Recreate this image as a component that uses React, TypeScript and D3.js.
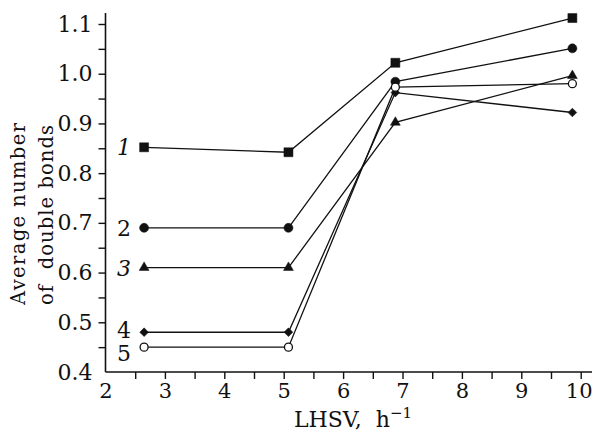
import React, { useEffect, useRef } from "react";
import * as d3 from "d3";

const lhsv = [2.65, 5.08, 6.88, 9.86];
const series1 = [0.852, 0.842, 1.022, 1.112];
const series2 = [0.69, 0.69, 0.984, 1.051];
const series3 = [0.61, 0.61, 0.902, 0.996];
const series4 = [0.48, 0.48, 0.962, 0.922];
const series5 = [0.45, 0.45, 0.973, 0.98];
const seriesLabels = ["1", "2", "3", "4", "5"];
const xTicks = d3.range(2, 10.01, 0.5);
const yTicks = d3.range(0.4, 1.1001, 0.05);

const W = 592;
const H = 433;
const FONT = "'DejaVu Serif', serif";
const FS = 22;

export default function App() {
  const ref = useRef<SVGSVGElement>(null);
  useEffect(() => {
    document.body.style.margin = "0";
    const svg = d3.select(ref.current);
    svg.selectAll("*").remove();

    const x = d3.scaleLinear().domain([2, 10]).range([105.5, 580.7]);
    const y = d3.scaleLinear().domain([0.4, 1.1]).range([372, 24]);
    const x0 = x(2);
    const y0 = y(0.4);

    svg.append("line").attr("x1", x0).attr("x2", W).attr("y1", y0).attr("y2", y0)
      .attr("stroke", "#111").attr("stroke-width", 1.6);
    svg.append("line").attr("x1", x0).attr("x2", x0).attr("y1", 13).attr("y2", y0)
      .attr("stroke", "#111").attr("stroke-width", 1.6);

    const xAxis = d3.axisBottom(x).tickValues(xTicks).tickSize(7).tickPadding(4)
      .tickFormat((d) => (Math.abs((d as number) - Math.round(d as number)) < 1e-6 ? String(Math.round(d as number)) : ""));
    const gx = svg.append("g").attr("transform", `translate(0,${y0})`).call(xAxis);
    gx.select(".domain").remove();
    gx.selectAll(".tick line").attr("stroke", "#111").attr("stroke-width", 1.4);
    gx.selectAll(".tick text").attr("font-family", FONT).attr("font-size", 21).attr("fill", "#111");
    gx.selectAll(".tick").filter((d) => (d as number) === 2).select("line").remove();
    gx.selectAll(".tick").filter((d) => (d as number) === 10).select("text").attr("x", -2);

    const yAxis = d3.axisLeft(y).tickValues(yTicks).tickSize(7).tickPadding(6)
      .tickFormat((d) => {
        const v = Math.round((d as number) * 100);
        return v % 10 === 0 ? d3.format(".1f")(d as number) : "";
      });
    const gy = svg.append("g").attr("transform", `translate(${x0},0)`).call(yAxis);
    gy.select(".domain").remove();
    gy.selectAll(".tick line").attr("stroke", "#111").attr("stroke-width", 1.4);
    gy.selectAll(".tick text").attr("font-family", FONT).attr("font-size", FS).attr("fill", "#111");
    gy.selectAll(".tick").filter((d) => Math.abs((d as number) - 0.4) < 1e-6).select("line").remove();

    const all = [series1, series2, series3, series4, series5];
    const line = d3.line<number>().x((_, i) => x(lhsv[i])).y((d) => y(d));

    all.forEach((s) => {
      svg.append("path").attr("d", line(s)).attr("fill", "none")
        .attr("stroke", "#111").attr("stroke-width", 1.3);
    });

    const markers = [
      { type: d3.symbolSquare, size: 81, fill: "#111", rot: 0 },
      { type: d3.symbolCircle, size: 64, fill: "#111", rot: 0 },
      { type: d3.symbolTriangle, size: 42, fill: "#111", rot: 0 },
      { type: d3.symbolSquare, size: 38, fill: "#111", rot: 45 },
      { type: d3.symbolCircle, size: 50, fill: "#fff", rot: 0 },
    ];
    all.forEach((s, si) => {
      const m = markers[si];
      const p = d3.symbol().type(m.type).size(m.size)();
      s.forEach((v, i) => {
        svg.append("path").attr("d", p)
          .attr("transform", `translate(${x(lhsv[i])},${y(v)}) rotate(${m.rot})`)
          .attr("fill", m.fill).attr("stroke", "#111").attr("stroke-width", si === 4 ? 1.3 : 0.5);
      });
    });

    const labelDy = [0, 0, 0, -2, 6];
    const italic = [true, false, true, false, false];
    seriesLabels.forEach((t, i) => {
      svg.append("text").text(t)
        .attr("x", 124).attr("y", y(all[i][0]) + labelDy[i])
        .attr("dy", "0.36em").attr("text-anchor", "middle")
        .attr("font-family", FONT).attr("font-size", FS)
        .attr("font-style", italic[i] ? "italic" : "normal").attr("fill", "#111");
    });

    const yl = [
      { t: "Average number", bx: 25, len: 182, cy: 214 },
      { t: "of  double bonds", bx: 53, len: 180, cy: 215 },
    ];
    yl.forEach((l) => {
      svg.append("text").text(l.t)
        .attr("transform", `translate(${l.bx},${l.cy}) rotate(-90)`)
        .attr("text-anchor", "middle").attr("font-family", FONT).attr("font-size", 19.5)
        .attr("textLength", l.len).attr("lengthAdjust", "spacing")
        .attr("fill", "#111").style("white-space", "pre");
    });

    const xl = svg.append("text").attr("x", 353).attr("y", 427)
      .attr("text-anchor", "middle").attr("font-family", FONT).attr("font-size", FS)
      .attr("fill", "#111").style("white-space", "pre");
    xl.append("tspan").text("LHSV,  h");
    xl.append("tspan").text("\u22121").attr("font-size", 15).attr("dy", -9);
  }, []);

  return (
    <svg ref={ref} width={W} height={H}
      style={{ display: "block", position: "absolute", left: 0, top: 0, background: "#fff" }} />
  );
}
